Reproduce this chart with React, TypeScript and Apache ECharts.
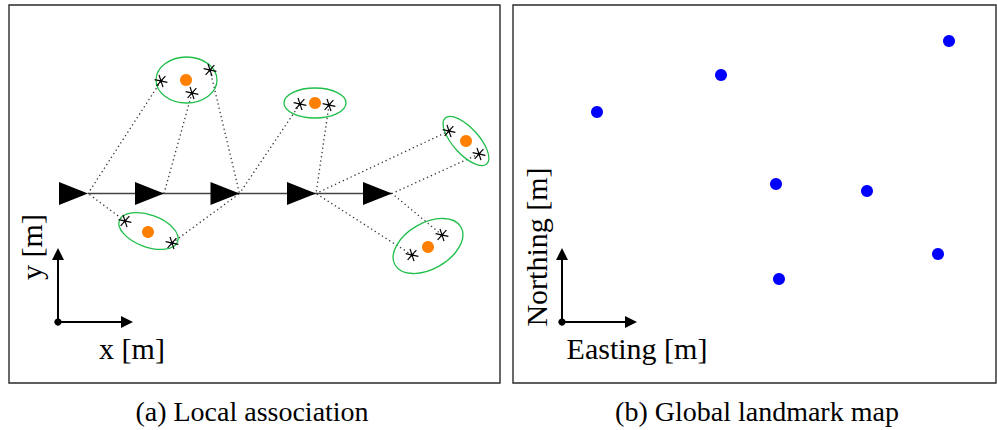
import React, { useEffect, useRef } from "react";
import * as echarts from "echarts";

// Local association panel (image-like units, y downward)
const poses: number[][] = [[88, 193.5], [164, 193.5], [239.5, 193.5], [316, 193.5], [392, 193.5]];
const localLandmarks: number[][] = [[186, 80], [148, 232], [315, 103], [466, 141], [428, 247]];
// cx, cy, semi-axis a, semi-axis b, angle (deg, clockwise)
const ellipses: number[][] = [
  [186.5, 80, 30.5, 23, 0],
  [148.5, 231, 31, 16, 20],
  [315, 103, 31, 15, 0],
  [466, 141, 31, 13, 48],
  [428, 246, 38, 23, -30],
];
const observations: number[][] = [
  [161, 81], [210, 70], [192, 93],
  [125, 221], [172, 243],
  [300, 104], [329, 105],
  [449, 131], [479, 154],
  [442, 235], [412, 255],
];
// [observation index, pose index]
const associations: number[][] = [
  [0, 0], [2, 1], [1, 2],
  [3, 0], [4, 2],
  [5, 2], [6, 3],
  [7, 3], [8, 4],
  [10, 3], [9, 4],
];
// Global landmark map panel
const globalLandmarks: number[][] = [[597, 112], [721, 75], [949, 41], [776, 184], [867, 191], [938, 254], [779, 279]];

const localFrame = { origin: [58, 322], up: [58, 254], right: [127, 322] };
const globalFrame = { origin: [562, 322], up: [562, 254], right: [631, 322] };

const FONT = '"Liberation Serif", "DejaVu Serif", serif';

export default function App() {
  const ref = useRef<HTMLDivElement>(null);
  useEffect(() => {
    if (!ref.current) return;
    const chart = echarts.init(ref.current, null, { renderer: "svg" });

    const arrowLines = (frame: any) => [
      { coords: [frame.origin, frame.up] },
      { coords: [frame.origin, frame.right] },
    ];

    const textStyle = (text: string, size: number) => ({
      text,
      fontFamily: FONT,
      fontSize: size,
      fill: "#000",
      align: "center",
      verticalAlign: "middle",
      textAlign: "center",
      textVerticalAlign: "middle",
    });

    const option: any = {
      animation: false,
      backgroundColor: "#fff",
      grid: [
        { left: 9, top: 5, width: 491, height: 378, show: true, borderColor: "#2a2a2a", borderWidth: 1.4, backgroundColor: "transparent" },
        { left: 513, top: 5, width: 483, height: 378, show: true, borderColor: "#2a2a2a", borderWidth: 1.4, backgroundColor: "transparent" },
      ],
      xAxis: [
        { gridIndex: 0, type: "value", min: 9, max: 500, show: false },
        { gridIndex: 1, type: "value", min: 513, max: 996, show: false },
      ],
      yAxis: [
        { gridIndex: 0, type: "value", min: 5, max: 383, inverse: true, show: false },
        { gridIndex: 1, type: "value", min: 5, max: 383, inverse: true, show: false },
      ],
      series: [
        {
          type: "lines",
          coordinateSystem: "cartesian2d",
          xAxisIndex: 0,
          yAxisIndex: 0,
          symbol: "none",
          lineStyle: { color: "#333", width: 1.3, type: [1.3, 3], opacity: 1 },
          data: associations.map(([o, p]) => ({ coords: [observations[o], poses[p]] })),
          z: 1,
        },
        {
          type: "line",
          xAxisIndex: 0,
          yAxisIndex: 0,
          symbol: "none",
          lineStyle: { color: "#444", width: 1.6 },
          data: [poses[0], poses[poses.length - 1]],
          z: 2,
        },
        {
          type: "custom",
          xAxisIndex: 0,
          yAxisIndex: 0,
          data: ellipses,
          z: 3,
          renderItem: (params: any, api: any) => {
            const c = api.coord([api.value(0), api.value(1)]);
            const s = api.size([api.value(2), api.value(3)]);
            return {
              type: "ellipse",
              x: c[0],
              y: c[1],
              rotation: (-api.value(4) * Math.PI) / 180,
              shape: { cx: 0, cy: 0, rx: Math.abs(s[0]), ry: Math.abs(s[1]) },
              style: { fill: "none", stroke: "#1fbf4a", lineWidth: 1.3 },
            };
          },
        },
        {
          type: "scatter",
          xAxisIndex: 0,
          yAxisIndex: 0,
          symbol: "path://M0,0 L29,11.5 L0,23 Z",
          symbolSize: [29, 23],
          symbolOffset: [-14.5, 0],
          itemStyle: { color: "#000", opacity: 1 },
          data: poses,
          z: 4,
        },
        {
          type: "scatter",
          xAxisIndex: 0,
          yAxisIndex: 0,
          symbol: "circle",
          symbolSize: 12,
          itemStyle: { color: "#ff8000", opacity: 1 },
          data: localLandmarks,
          z: 5,
        },
        {
          type: "custom",
          xAxisIndex: 0,
          yAxisIndex: 0,
          data: observations,
          z: 6,
          renderItem: (params: any, api: any) => {
            const c = api.coord([api.value(0), api.value(1)]);
            const r = 6.5;
            const children: any[] = [0, 60, 120].map((deg) => {
              const t = ((deg + 12) * Math.PI) / 180;
              return {
                type: "line",
                shape: {
                  x1: c[0] - r * Math.cos(t),
                  y1: c[1] - r * Math.sin(t),
                  x2: c[0] + r * Math.cos(t),
                  y2: c[1] + r * Math.sin(t),
                },
                style: { stroke: "#000", lineWidth: 1.2 },
              };
            });
            children.push({ type: "circle", shape: { cx: c[0], cy: c[1], r: 1.5 }, style: { fill: "#000" } });
            return { type: "group", children };
          },
        },
        {
          type: "lines",
          coordinateSystem: "cartesian2d",
          xAxisIndex: 0,
          yAxisIndex: 0,
          symbol: ["circle", "triangle"],
          symbolSize: [7, 12],
          lineStyle: { color: "#000", width: 2, type: "solid", opacity: 1 },
          itemStyle: { color: "#000" },
          data: arrowLines(localFrame),
          z: 7,
        },
        {
          type: "scatter",
          xAxisIndex: 1,
          yAxisIndex: 1,
          symbol: "circle",
          symbolSize: 12,
          itemStyle: { color: "#0000ff", opacity: 1 },
          data: globalLandmarks,
          z: 5,
        },
        {
          type: "lines",
          coordinateSystem: "cartesian2d",
          xAxisIndex: 1,
          yAxisIndex: 1,
          symbol: ["circle", "triangle"],
          symbolSize: [7, 12],
          lineStyle: { color: "#000", width: 2, type: "solid", opacity: 1 },
          itemStyle: { color: "#000" },
          data: arrowLines(globalFrame),
          z: 7,
        },
      ],
      graphic: [
        { type: "text", x: 132, y: 348, style: textStyle("x [m]", 30) },
        { type: "text", x: 31, y: 247, rotation: Math.PI / 2, style: textStyle("y [m]", 30) },
        { type: "text", x: 637, y: 348, style: textStyle("Easting [m]", 30) },
        { type: "text", x: 536, y: 247, rotation: Math.PI / 2, style: textStyle("Northing [m]", 30) },
        { type: "text", x: 252, y: 411, style: textStyle("(a) Local association", 28) },
        { type: "text", x: 757, y: 411, style: textStyle("(b) Global landmark map", 28) },
      ],
    };
    chart.setOption(option);
    return () => chart.dispose();
  }, []);
  return <div ref={ref} style={{ position: "fixed", left: 0, top: 0, width: 997, height: 430, background: "#fff" }} />;
}
